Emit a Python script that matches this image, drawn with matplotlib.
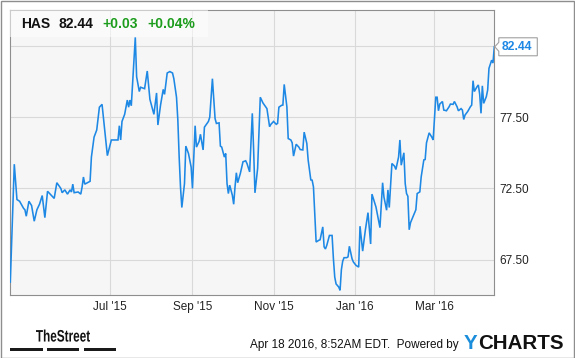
import matplotlib
matplotlib.use("Agg")
import matplotlib.pyplot as plt
import pandas as pd
from matplotlib.patches import Rectangle, Polygon, PathPatch
from matplotlib.textpath import TextPath
from matplotlib.font_manager import FontProperties
from matplotlib import transforms

W, H = 575, 358

TICKER = "HAS"
LAST = 82.44
CHANGE = "+0.03"
CHANGE_PCT = "+0.04%"
STAMP = "Apr 18 2016, 8:52AM EDT.  Powered by"

# 日线收盘价（从原图读取，约略值）
DATES = [
    "2015-04-17", "2015-04-20", "2015-04-22", "2015-04-24", "2015-04-27", "2015-04-28",
    "2015-04-29", "2015-05-01", "2015-05-03", "2015-05-05", "2015-05-07", "2015-05-09",
    "2015-05-11", "2015-05-13", "2015-05-15", "2015-05-17", "2015-05-20", "2015-05-22",
    "2015-05-25", "2015-05-26", "2015-05-28", "2015-05-30",
    "2015-06-01", "2015-06-02", "2015-06-03", "2015-06-04", "2015-06-07", "2015-06-09",
    "2015-06-10", "2015-06-11", "2015-06-12", "2015-06-16", "2015-06-17", "2015-06-19",
    "2015-06-21", "2015-06-23", "2015-06-25", "2015-06-27", "2015-06-29",
    "2015-07-02", "2015-07-04", "2015-07-07", "2015-07-08", "2015-07-09", "2015-07-10",
    "2015-07-12", "2015-07-14", "2015-07-15", "2015-07-16", "2015-07-17", "2015-07-20",
    "2015-07-21", "2015-07-23", "2015-07-24", "2015-07-27", "2015-07-29", "2015-07-31",
    "2015-08-03", "2015-08-05", "2015-08-06", "2015-08-08", "2015-08-10", "2015-08-11",
    "2015-08-13", "2015-08-15", "2015-08-17", "2015-08-18", "2015-08-20", "2015-08-21",
    "2015-08-22", "2015-08-23", "2015-08-24", "2015-08-26", "2015-08-27", "2015-08-29",
    "2015-08-31",
    "2015-09-01", "2015-09-03", "2015-09-04", "2015-09-06", "2015-09-07", "2015-09-09",
    "2015-09-10", "2015-09-13", "2015-09-14", "2015-09-16", "2015-09-18", "2015-09-19",
    "2015-09-21", "2015-09-22", "2015-09-23", "2015-09-25", "2015-09-26", "2015-09-27",
    "2015-09-28", "2015-09-29",
    "2015-10-01", "2015-10-02", "2015-10-03", "2015-10-04", "2015-10-05", "2015-10-07",
    "2015-10-09", "2015-10-11", "2015-10-12", "2015-10-14", "2015-10-16", "2015-10-17",
    "2015-10-18", "2015-10-20", "2015-10-22", "2015-10-24", "2015-10-26", "2015-10-27",
    "2015-10-29", "2015-10-30",
    "2015-11-01", "2015-11-03", "2015-11-04", "2015-11-05", "2015-11-07", "2015-11-08",
    "2015-11-09", "2015-11-11", "2015-11-12", "2015-11-14", "2015-11-15", "2015-11-16",
    "2015-11-18", "2015-11-20", "2015-11-21", "2015-11-23", "2015-11-24", "2015-11-26",
    "2015-11-27", "2015-11-29", "2015-11-30",
    "2015-12-01", "2015-12-02", "2015-12-03", "2015-12-05", "2015-12-06", "2015-12-08",
    "2015-12-09", "2015-12-10", "2015-12-11", "2015-12-13", "2015-12-15", "2015-12-16",
    "2015-12-17", "2015-12-18", "2015-12-20", "2015-12-21", "2015-12-22", "2015-12-23",
    "2015-12-24", "2015-12-26", "2015-12-27", "2015-12-28", "2015-12-30", "2015-12-31",
    "2016-01-02", "2016-01-04", "2016-01-05", "2016-01-07", "2016-01-09", "2016-01-11",
    "2016-01-13", "2016-01-14", "2016-01-17", "2016-01-19", "2016-01-20", "2016-01-22",
    "2016-01-23", "2016-01-25", "2016-01-26", "2016-01-27", "2016-01-29", "2016-01-31",
    "2016-02-01", "2016-02-03", "2016-02-04", "2016-02-05", "2016-02-07", "2016-02-08",
    "2016-02-09", "2016-02-10", "2016-02-11", "2016-02-12", "2016-02-14", "2016-02-16",
    "2016-02-17", "2016-02-19", "2016-02-20", "2016-02-22", "2016-02-23", "2016-02-24",
    "2016-02-26", "2016-02-28", "2016-02-29",
    "2016-03-02", "2016-03-03", "2016-03-04", "2016-03-05", "2016-03-07", "2016-03-08",
    "2016-03-10", "2016-03-12", "2016-03-13", "2016-03-15", "2016-03-16", "2016-03-18",
    "2016-03-19", "2016-03-21", "2016-03-22", "2016-03-23", "2016-03-24", "2016-03-26",
    "2016-03-28", "2016-03-29", "2016-03-30", "2016-03-31",
    "2016-04-02", "2016-04-03", "2016-04-04", "2016-04-05", "2016-04-06", "2016-04-07",
    "2016-04-09", "2016-04-10", "2016-04-11", "2016-04-13", "2016-04-14", "2016-04-15",
]
PRICES = [
    65.93, 74.2, 71.72, 71.6, 71.1, 71.0,
    70.55, 71.6, 71.3, 70.2, 71.0, 71.4,
    72.0, 70.45, 72.3, 72.1, 71.8, 72.9,
    72.5, 72.2, 72.4, 72.1,
    72.4, 72.25, 72.8, 72.2, 72.25, 72.1,
    72.6, 73.3, 72.8, 73.0, 74.7, 76.1,
    76.6, 78.2, 78.4, 76.6, 74.8,
    75.9, 75.9, 75.9, 76.9, 75.9, 77.2,
    77.7, 78.7, 78.2, 78.7, 78.3, 83.1,
    80.34, 79.3, 79.6, 79.5, 80.74, 78.75,
    77.7, 79.2, 76.95, 78.35, 79.45, 79.1,
    80.6, 80.7, 80.6, 80.2, 78.9, 77.3,
    74.7, 72.6, 71.16, 72.84, 75.47, 74.95,
    74.0,
    72.5, 76.9, 75.4, 75.8, 76.3, 75.2,
    76.8, 77.2, 77.5, 80.2, 77.4, 77.06,
    77.1, 75.47, 75.4, 74.7, 74.95, 72.84,
    72.14, 72.73,
    72.02, 71.39, 72.6, 73.6, 72.9, 73.55,
    74.37, 74.44, 74.25, 73.66, 77.77, 75.2,
    72.19, 73.9, 78.9, 78.5, 78.23, 78.1,
    76.83, 77.0,
    77.2, 77.0, 77.06, 78.2, 78.33, 78.35,
    79.8, 78.23, 76.0, 75.9, 75.7, 74.77,
    75.6, 75.4, 75.23, 75.2, 76.45, 75.66,
    74.5, 73.1, 73.08,
    72.6, 70.7, 68.74, 68.86, 68.9, 69.8,
    68.4, 68.25, 68.5, 69.2, 69.2, 67.57,
    66.28, 65.8, 65.58, 65.35, 66.8, 67.4,
    67.64, 67.64, 67.7, 68.44, 67.57, 67.34,
    67.1, 66.98, 69.85, 68.1, 69.56, 70.8,
    68.6, 72.1, 71.2, 70.26, 69.75, 72.9,
    71.9, 70.97, 72.4, 71.16, 74.25, 74.06,
    73.83, 74.7, 75.9, 74.13, 75.0, 72.84,
    72.14, 71.95, 69.6, 70.1, 70.55, 71.0,
    72.14, 72.26, 73.3, 74.5, 74.53, 75.7,
    76.4, 76.1, 75.9,
    78.9, 78.9, 77.95, 78.42, 78.6, 78.0,
    77.95, 78.23, 78.42, 78.4, 78.6, 78.23,
    77.95, 78.1, 78.0, 77.34, 77.65, 77.9,
    78.23, 78.35, 80.06, 79.3,
    79.64, 79.76, 79.12, 77.77, 79.7, 78.47,
    78.94, 79.4, 80.93, 81.5, 81.3, 82.44,
]

Y_TICKS = [67.5, 72.5, 77.5, 82.5]
Y_LABELS = ["67.50", "72.50", "77.50", ""]
X_TICKS = ["2015-07-01", "2015-09-01", "2015-11-01", "2016-01-01", "2016-03-01"]
X_LABELS = ["Jul '15", "Sep '15", "Nov '15", "Jan '16", "Mar '16"]

BLUE = "#1e88e5"
GREEN = "#1c9c1c"
GRID = "#d9d9d9"
FRAME = "#8e8e8e"
FONT = ["Liberation Sans", "DejaVu Sans"]


def fx(x):
    return x / W


def fy(y):
    # 像素（上为原点）→ 图坐标
    return 1 - y / H


def logo_text(fig, text, box, color):
    """把文字压进给定像素框 (left, top, right, bottom)，用来画窄体 logo"""
    tp = TextPath((0, 0), text, size=20, prop=FontProperties(family=FONT, weight="bold"))
    bb = tp.get_extents()
    left, top, right, bottom = box
    sx = (right - left) / bb.width
    sy = (bottom - top) / bb.height
    tr = (transforms.Affine2D().translate(-bb.x0, -bb.y0).scale(sx, sy)
          .translate(left, H - bottom))
    fig.patches.append(PathPatch(tp, transform=tr, facecolor=color, edgecolor="none"))


def main():
    plt.rcParams["font.family"] = FONT
    fig = plt.figure(figsize=(W / 100, H / 100), dpi=100)
    fig.patch.set_facecolor("white")

    ax = fig.add_axes([fx(10.3), fy(295.3), (494.3 - 10.3) / W, (295.3 - 10.3) / H])
    ax.set_facecolor("#f6f6f6")

    dates = pd.to_datetime(DATES)
    ax.plot(dates, PRICES, color=BLUE, lw=1.15, solid_joinstyle="miter", zorder=3)

    ax.set_xlim(dates[0], dates[-1])
    ax.set_ylim(65, 85)
    ax.set_xticks(pd.to_datetime(X_TICKS))
    ax.set_xticklabels(X_LABELS)
    ax.set_yticks(Y_TICKS)
    ax.set_yticklabels(Y_LABELS)
    ax.yaxis.tick_right()
    ax.tick_params(axis="both", length=0, labelsize=8.5, labelcolor="#222222")
    ax.tick_params(axis="y", pad=3.8)
    ax.tick_params(axis="x", pad=4.0)
    ax.grid(True, color=GRID, lw=0.8)
    ax.set_axisbelow(True)
    for s in ax.spines.values():
        s.set_color(FRAME)
        s.set_linewidth(0.8)

    # 左上角报价框
    ax.add_patch(Rectangle((0, 1 - 26.5 / 285), 197.7 / 484, 26.5 / 285,
                           transform=ax.transAxes, facecolor="white", alpha=0.55,
                           edgecolor="none", zorder=4))
    ty = fy(24)
    fig.text(fx(21.3), ty, TICKER, fontsize=10, fontweight="bold", color="#111111", va="center")
    fig.text(fx(58.7), ty, f"{LAST:.2f}", fontsize=10, fontweight="bold", color="#111111", va="center")
    fig.text(fx(102.7), ty, CHANGE, fontsize=10, fontweight="bold", color=GREEN, va="center")
    fig.text(fx(147.3), ty, CHANGE_PCT, fontsize=10, fontweight="bold", color=GREEN, va="center")

    # 最新价标签（带左箭头）
    fig.canvas.draw()
    base = transforms.blended_transform_factory(ax.transAxes, ax.transData)
    x0, y0 = base.transform((1, LAST))
    x0 += 0.5
    pts = [(x0, y0), (x0 + 4, y0 + 4.5), (x0 + 4, y0 + 9), (x0 + 42.5, y0 + 9),
           (x0 + 42.5, y0 - 9), (x0 + 4, y0 - 9), (x0 + 4, y0 - 4.5)]
    fig.patches.append(Polygon(pts, closed=True, transform=None, facecolor="white",
                               edgecolor="#a0a0a0", lw=0.8, zorder=5))
    fig.text(x0 + 7.2, y0 - 0.3, f"{LAST:.2f}", transform=None, fontsize=8.7,
             fontweight="bold", color=BLUE, va="center", ha="left", zorder=6)

    # 页脚
    logo_text(fig, "TheStreet", (36, 329.5, 90, 341.7), "#111111")
    for a, b in [(10.3, 42.7), (47, 79.3), (83.7, 115.7)]:
        fig.patches.append(Rectangle((fx(a), fy(350.5)), fx(b - a), 3.0 / H,
                                     transform=fig.transFigure, facecolor="#1a1a1a",
                                     edgecolor="none"))
    fig.text(fx(459), fy(345), STAMP, fontsize=8.5, color="#111111", va="center", ha="right")
    fig.text(fx(463.3), fy(349), "Y", fontsize=14.8, fontweight="bold", color="#1a8ddb",
             va="baseline", ha="left")
    fig.text(fx(478.5), fy(349), "CHARTS", fontsize=14.8, fontweight="bold", color="#111111",
             va="baseline", ha="left")

    # 外框
    fig.patches.append(Rectangle((fx(0.5), fy(357.5)), fx(573), 357 / H,
                                 transform=fig.transFigure, facecolor="none",
                                 edgecolor=FRAME, lw=1.0))

    fig.savefig("out.png", dpi=100)


if __name__ == "__main__":
    main()
